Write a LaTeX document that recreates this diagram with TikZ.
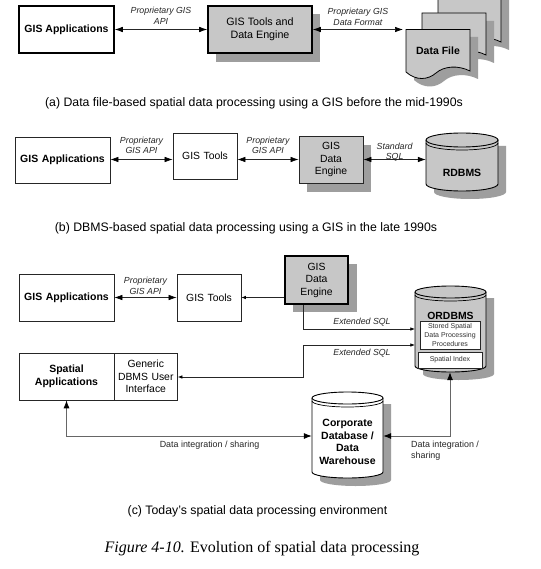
\documentclass[tikz,border=0pt]{standalone}
\usepackage{fontspec}
\setmainfont{Liberation Sans}
\newfontfamily\serifcap{Liberation Serif}
\usetikzlibrary{arrows.meta,calc}
\definecolor{fillg}{gray}{0.78}
\definecolor{shadowg}{gray}{0.62}
\tikzset{
  x=1pt,y=-1pt,
  every node/.style={inner sep=0pt,font=\fontsize{10.4}{12.5}\selectfont,align=center},
  plainbox/.style={draw=black!85,line width=0.7pt,fill=white,minimum width=#1,text width=#1},
  boldbox/.style={draw=black,line width=1.6pt,fill=white},
  graybox/.style={fill=fillg},
  ghost/.style={draw=none,fill=none},
  conn/.style={draw=black!85,line width=0.65pt},
  twoway/.style={conn,{Latex[length=8pt,width=5.5pt,black]}-{Latex[length=8pt,width=5.5pt,black]}},
  oneway/.style={conn,-{Latex[length=4.5pt,width=3.5pt,black]}},
  smalltwo/.style={conn,{Latex[length=4.5pt,width=3.5pt,black]}-{Latex[length=4.5pt,width=3.5pt,black]}},
  bigway/.style={draw=black!60,line width=0.8pt,{Latex[length=8pt,width=6pt,black]}-{Latex[length=8pt,width=6pt,black]}},
  lab/.style={font=\fontsize{8.8}{10.5}\selectfont\itshape,text=black!85},
  lab2/.style={font=\fontsize{8.9}{11}\selectfont,text=black!85,align=left},
  captext/.style={font=\fontsize{12.3}{14}\selectfont},
  boldt/.style={font=\fontsize{10.5}{12.5}\selectfont\bfseries},
  tinyt/.style={draw=black!85,line width=0.5pt,fill=white,font=\fontsize{7}{8.6}\selectfont,text=black!80}
}
% args: left, centre y of the lid, right, lowest point, ry, body fill, lid fill
\newcommand{\cylshape}[7]{%
  \fill[shadowg] (#1+8,#2+6) -- (#3+8,#2+6) -- (#3+8,#4+8-#5) arc[x radius={(#3-#1)/2},y radius=#5,start angle=0,end angle=180] -- cycle;
  \draw[black,line width=0.9pt,fill=#6] (#1,#2) -- (#1,#4-#5) arc[x radius={(#3-#1)/2},y radius=#5,start angle=180,end angle=0] -- (#3,#2);
  \draw[black,line width=0.7pt] (#1,#2+3) arc[x radius={(#3-#1)/2},y radius=#5,start angle=180,end angle=0];
  \draw[black,line width=0.9pt,fill=#7] (#1,#2) arc[x radius={(#3-#1)/2},y radius=#5,start angle=180,end angle=-180];
}
% args: left, top, bottom at the right edge, width, style
\newcommand{\docshape}[5]{%
  \path[#5] (#1,#2) -- (#1+#4,#2) -- (#1+#4,#3) .. controls (#1+#4-12,#3-6) and (#1+38,#3-5) .. (#1+30,#3+2) .. controls (#1+22,#3+9) and (#1+10,#3+10) .. (#1,#3+1) -- cycle;
}
\begin{document}
\begin{tikzpicture}
\useasboundingbox (0,0) rectangle (540,569);
\fill[white] (0,0) rectangle (540,569);

% ---------- (a)
\node[boldbox,minimum width=95pt,minimum height=47pt,boldt] (a1) at (66.5,29.5) {GIS Applications};
\fill[shadowg] (216,14) rectangle (319.5,62);
\node[boldbox,graybox,minimum width=104pt,minimum height=47pt,font=\fontsize{10.7}{13}\selectfont] (a2) at (260,29.5) {GIS Tools and\\Data Engine};
\begin{scope}
\clip (400,0) rectangle (520,100);
\docshape{446}{-12}{50}{63}{fill=shadowg}
\docshape{438}{-20}{42}{63}{fill=fillg,draw=black,line width=0.8pt}
\docshape{430}{21}{63}{64}{fill=shadowg}
\docshape{422}{13}{55}{64}{fill=fillg,draw=black,line width=0.8pt}
\docshape{414}{37}{79}{64}{fill=shadowg}
\docshape{406}{29.5}{71}{64}{fill=fillg,draw=black,line width=0.8pt}
\end{scope}
\node[ghost,boldt,minimum width=64pt,minimum height=42pt] (a3) at (438,50.5) {Data File};
\coordinate (a3w) at (403,29.5);
\coordinate (a1e) at (a1.east);
\coordinate (a2w) at (a2.west);
\coordinate (a2e) at (a2.east);
\draw[twoway] (a1e) -- node[yshift=13.5pt,lab]{Proprietary GIS\\API} (a2w);
\draw[twoway] (a2e) -- node[yshift=12.5pt,lab]{Proprietary GIS\\Data Format} (a3w);
\node[captext] (capa) at (254,103) {(a) Data file-based spatial data processing using a GIS before the mid-1990s};

% ---------- (b)
\node[plainbox=95pt,minimum height=46pt,boldt] (b1) at (62.5,160) {GIS Applications};
\node[plainbox=64pt,minimum height=46pt] (b2) at (205,156) {GIS Tools};
\fill[shadowg] (307,145) rectangle (371,192);
\node[draw=black!85,line width=0.8pt,graybox,minimum width=64pt,minimum height=47pt] (b3) at (331,159.5) {GIS\\Data\\Engine};
\cylshape{426}{140}{498}{191}{7}{fillg}{fillg}
\node[ghost,boldt,minimum width=72pt,minimum height=44pt] (b4) at (462,173) {RDBMS};
\coordinate (b1e) at (b1.east |- 0,159.5);
\coordinate (b2w) at (b2.west |- 0,159.5);
\coordinate (b2e) at (b2.east |- 0,159.5);
\coordinate (b3w) at (b3.west |- 0,159.5);
\coordinate (b3e) at (b3.east |- 0,159.5);
\coordinate (b4w) at (b4.west |- 0,159.5);
\draw[twoway] (b1e) -- node[yshift=14pt,lab]{Proprietary\\GIS API} (b2w);
\draw[twoway] (b2e) -- node[yshift=14pt,lab]{Proprietary\\GIS API} (b3w);
\draw[twoway] (b3e) -- node[yshift=7.5pt,lab]{Standard\\SQL} (b4w);
\node[captext] (capb) at (246,228) {(b) DBMS-based spatial data processing using a GIS in the late 1990s};

% ---------- (c)
\node[plainbox=95pt,minimum height=47pt,boldt] (c1) at (66.5,297.5) {GIS Applications};
\node[plainbox=64pt,minimum height=47pt] (c2) at (209,297.5) {GIS Tools};
\fill[shadowg] (293,264) rectangle (357,312);
\node[boldbox,graybox,minimum width=63pt,minimum height=48pt] (c3) at (316.5,280) {GIS\\Data\\Engine};
% ORDBMS
\cylshape{415}{292}{486}{372}{6}{fillg}{fillg}
\node[ghost,minimum width=71pt,minimum height=86pt] (c4) at (450.5,329) {};
\node[font=\fontsize{10.4}{12}\selectfont\bfseries] (c4t) at (450.5,316) {ORDBMS};
\node[tinyt,minimum width=60pt,minimum height=28pt] (c4a) at (450,335) {Stored Spatial\\Data Processing\\Procedures};
\node[tinyt,minimum width=64pt,minimum height=16pt] (c4b) at (450,360) {Spatial Index};
% left boxes
\node[plainbox=95pt,minimum height=47pt,boldt] (c5) at (66.5,376.5) {Spatial\\Applications};
\node[plainbox=63.5pt,minimum height=47pt] (c6) at (145.75,376.5) {Generic\\DBMS User\\Interface};
% Corporate
\cylshape{312}{398}{383}{478}{6}{white}{white}
\node[ghost,boldt,minimum width=71pt,minimum height=80pt] (c7) at (347.5,442) {Corporate\\Database /\\Data\\Warehouse};
\coordinate (c7w) at (c7.west |- 0,436);
\coordinate (c7e) at (c7.east |- 0,436);
\coordinate (c1e) at (c1.east |- 0,297.5);
\coordinate (c2w) at (c2.west |- 0,297.5);
\coordinate (c2e) at (c2.east |- 0,297.5);
\coordinate (c3w) at (c3.west |- 0,297.5);
\coordinate (c4w1) at (c4.west |- 0,329);
\coordinate (c4w2) at (c4.west |- 0,345);
\coordinate (c6e) at (c6.east |- 0,377);
\draw[twoway] (c1e) -- node[yshift=11.5pt,lab]{Proprietary\\GIS API} (c2w);
\draw[oneway] (c3w) -- (c2e);
\draw[oneway] (c3.south -| 303,0) |- (c4w1);
\draw[smalltwo] (c6e) -- (303,377) |- (c4w2);
\node[lab] (l1) at (362,322) {Extended SQL};
\node[lab] (l2) at (362,353) {Extended SQL};
\draw[bigway] (c5.south) |- (c7w);
\draw[bigway] (c7e) -| (c4.south -| 450,0);
\node[lab2] (l3) at (209.5,445) {Data integration / sharing};
\node[lab2,anchor=west] (l4) at (411,450.5) {Data integration /\\sharing};
\node[captext] (capc) at (257.5,511) {(c) Today’s spatial data processing environment};
\node[font=\fontsize{16}{18}\serifcap\selectfont] (fig) at (262,549) {\textit{Figure 4-10.} Evolution of spatial data processing};
\end{tikzpicture}
\end{document}
